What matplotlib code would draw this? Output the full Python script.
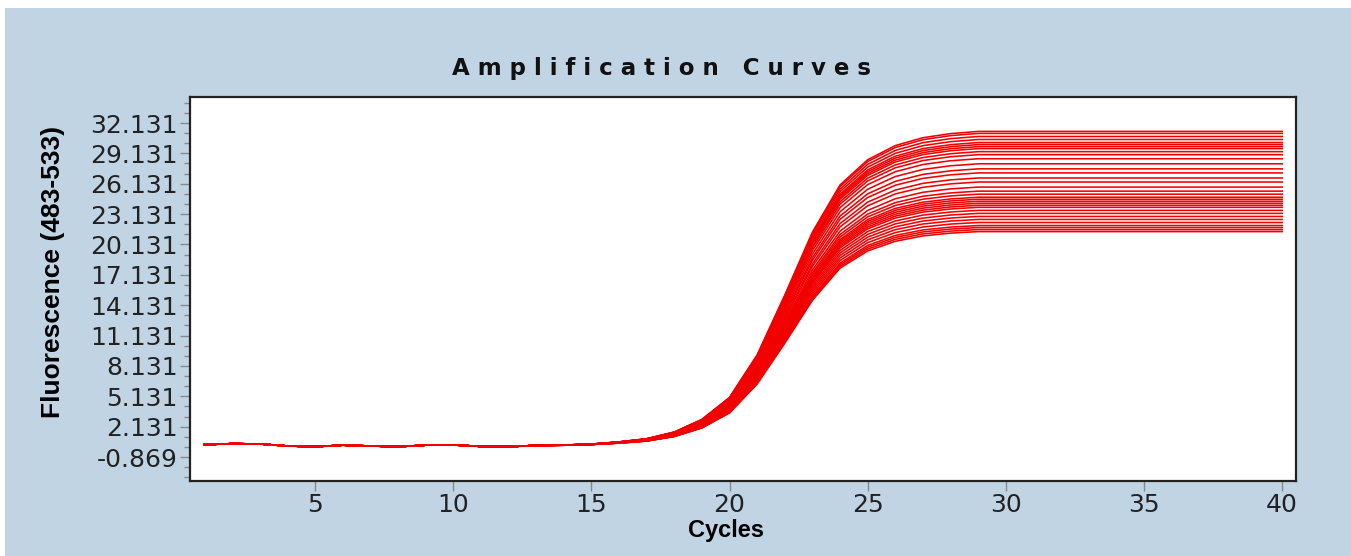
import matplotlib
matplotlib.use('Agg')
import numpy as np
import matplotlib.pyplot as plt
from matplotlib.patches import Rectangle
from matplotlib.ticker import FixedLocator

# cycles on the x axis
cycles = list(range(1, 41))

baseline = [0.35, 0.45, 0.42, 0.22, 0.15, 0.30, 0.22, 0.15, 0.30, 0.32,
            0.18, 0.15, 0.25, 0.25, 0.28, 0.25, 0.22, 0.2, 0.2, 0.2,
            0.2, 0.2, 0.2, 0.2, 0.2, 0.2, 0.2, 0.2, 0.2, 0.2,
            0.2, 0.2, 0.2, 0.2, 0.2, 0.2, 0.2, 0.2, 0.2, 0.2]

# fraction of plateau reached at each cycle (read from the rise)
shape = [0.0, 0.0, 0.0, 0.0, 0.0, 0.0, 0.0, 0.0, 0.0, 0.0,
         0.0, 0.0, 0.001, 0.002, 0.004, 0.012, 0.023, 0.045, 0.085, 0.155,
         0.29, 0.48, 0.68, 0.83, 0.91, 0.955, 0.98, 0.993, 1.0, 1.0,
         1.0, 1.0, 1.0, 1.0, 1.0, 1.0, 1.0, 1.0, 1.0, 1.0]

# plateau fluorescence of each well
plateaus = [31.1, 30.9, 30.6, 30.3, 30.0, 29.8, 29.6, 29.4, 29.1, 28.8,
            28.4, 27.9, 27.4, 27.0, 26.5, 26.1, 25.6, 25.2, 24.9, 24.6,
            24.4, 24.2, 24.0, 23.8, 23.6, 23.3, 23.0, 22.7, 22.4, 22.1,
            21.8, 21.6, 21.4, 21.2]

ytick_vals = [-0.869, 2.131, 5.131, 8.131, 11.131, 14.131, 17.131,
              20.131, 23.131, 26.131, 29.131, 32.131]
xtick_vals = [5, 10, 15, 20, 25, 30, 35, 40]

bg = '#c1d4e4'
fig = plt.figure(figsize=(13.51, 5.56), dpi=100, facecolor=bg)
# white strips at the top and left edge of the screenshot
fig.patches.append(Rectangle((0, 548 / 556), 1, 8 / 556, transform=fig.transFigure,
                             facecolor='white', edgecolor='none', zorder=-1))
fig.patches.append(Rectangle((0, 0), 5 / 1351, 1, transform=fig.transFigure,
                             facecolor='white', edgecolor='none', zorder=-1))

ax = fig.add_axes([190 / 1351, 1 - 481 / 556, 1106 / 1351, 384 / 556])
ax.set_facecolor('white')

x = np.array(cycles)
for p in plateaus:
    y = np.array(baseline) + p * np.array(shape)
    ax.plot(x, y, color='#f20000', lw=1.15)

ax.set_xlim(0.476, 40.5)
ax.set_ylim(-3.24, 34.7)

ax.yaxis.set_major_locator(FixedLocator(ytick_vals))
ax.set_yticklabels(['{:.3f}'.format(v) for v in ytick_vals])
minors = [v + d for v in ytick_vals for d in (1, 2)] + [-2.869, -1.869]
ax.yaxis.set_minor_locator(FixedLocator(minors))
ax.xaxis.set_major_locator(FixedLocator(xtick_vals))
ax.set_xticklabels([str(v) for v in xtick_vals])

ax.tick_params(axis='both', which='major', length=7, width=1, color='#888888',
               labelsize=18, labelcolor='#222222', pad=2)
ax.tick_params(axis='y', which='minor', length=4, width=1, color='#888888')

for s in ax.spines.values():
    s.set_color('#222222')
    s.set_linewidth(1.6)

ax.set_ylabel('Fluorescence (483-533)', family='Liberation Sans', fontweight='bold',
              fontsize=19)
ax.yaxis.set_label_coords(-0.113, 0.544)
ax.set_xlabel('Cycles', family='Liberation Sans', fontweight='bold', fontsize=17, va='top')
ax.xaxis.set_label_coords(0.485, -0.1)

fig.text(662 / 1351, 1 - 68 / 556, ' '.join('Amplification Curves'), ha='center', va='center',
         fontsize=16.5, fontweight='heavy', color='#111111')

plt.savefig('out.png', dpi=100, facecolor=fig.get_facecolor())
